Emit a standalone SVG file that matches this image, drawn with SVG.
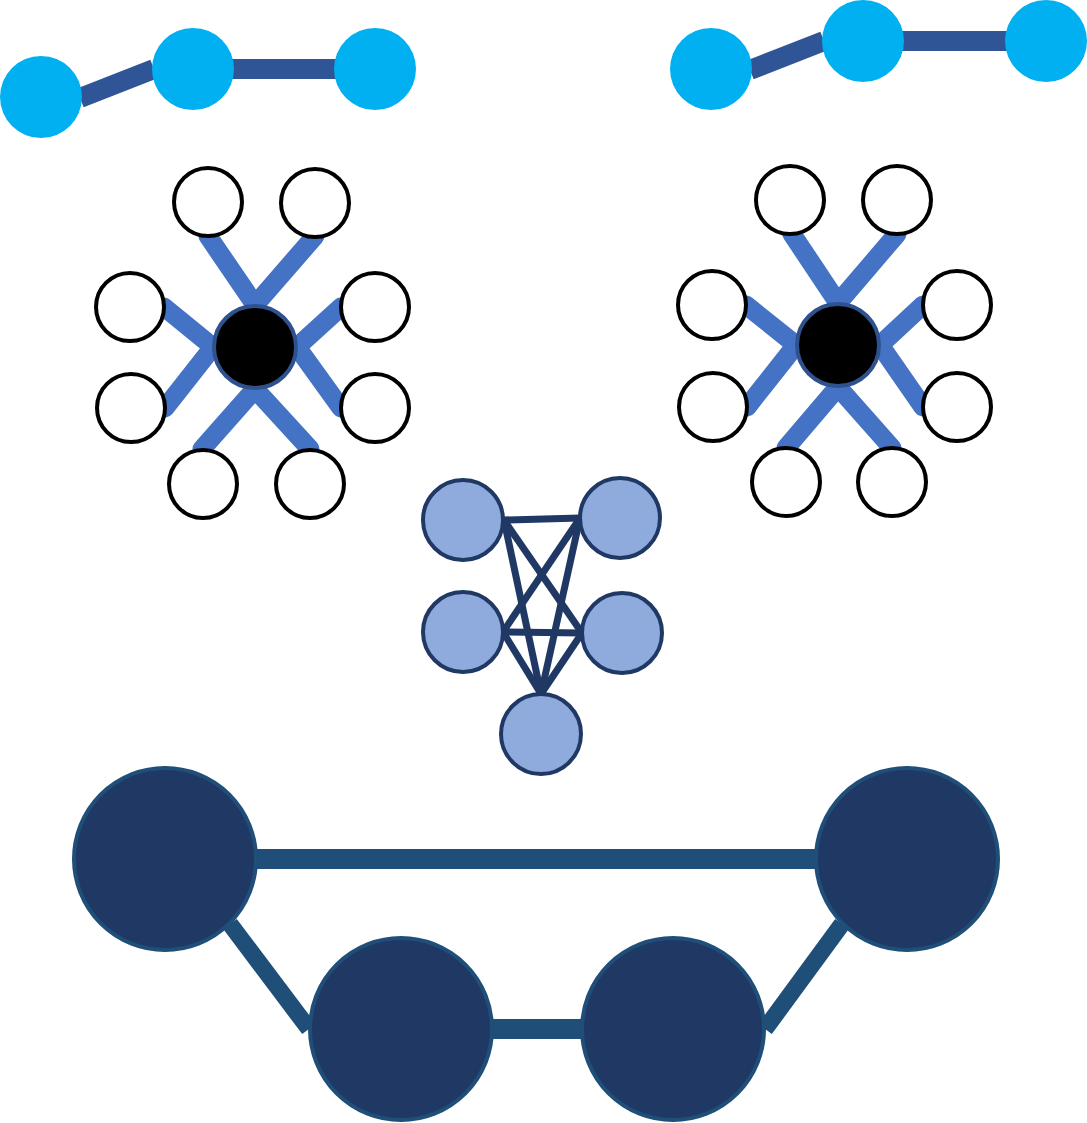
<svg xmlns="http://www.w3.org/2000/svg" width="1087" height="1123" viewBox="0 0 1087 1123">
<style>
.top{fill:#00B0F0;stroke:none}
.tl{stroke:#2F5597;stroke-width:20;fill:none}
.hub{fill:#000;stroke:#2F528F;stroke-width:4}
.leaf{fill:#fff;stroke:#000;stroke-width:4}
.sp{stroke:#4472C4;stroke-width:19;stroke-linecap:round;fill:none}
.mid{fill:#8FAADC;stroke:#203864;stroke-width:4}
.me{stroke:#203864;stroke-width:7;fill:none}
.big{fill:#203864;stroke:#1F4E79;stroke-width:4}
.be{stroke:#1F4E79;stroke-width:20;fill:none}
.bs{stroke:#1F4E79;stroke-width:17;fill:none}
</style>
<rect width="1087" height="1123" fill="#fff"/>
<g id="connectors">
<line class="tl" x1="80" y1="98" x2="154" y2="69"/>
<line class="tl" x1="193" y1="69" x2="375" y2="69"/>
<line class="tl" x1="750" y1="70" x2="824" y2="41"/>
<line class="tl" x1="863" y1="41" x2="1046" y2="41"/>
<g id="star-left-edges">
<line class="sp" x1="208" y1="236" x2="255" y2="305"/>
<line class="sp" x1="315" y1="236" x2="255" y2="305"/>
<line class="sp" x1="164" y1="307" x2="213" y2="347"/>
<line class="sp" x1="165" y1="408" x2="213" y2="347"/>
<line class="sp" x1="341" y1="307" x2="297" y2="347"/>
<line class="sp" x1="341" y1="408" x2="297" y2="347"/>
<line class="sp" x1="202" y1="449" x2="255" y2="389"/>
<line class="sp" x1="310" y1="449" x2="255" y2="389"/>
</g>
<g id="star-right-edges">
<line class="sp" x1="792" y1="234" x2="838" y2="303"/>
<line class="sp" x1="897" y1="234" x2="838" y2="303"/>
<line class="sp" x1="746" y1="305" x2="796" y2="345"/>
<line class="sp" x1="747" y1="407" x2="796" y2="345"/>
<line class="sp" x1="923" y1="305" x2="880" y2="345"/>
<line class="sp" x1="923" y1="407" x2="880" y2="345"/>
<line class="sp" x1="786" y1="448" x2="838" y2="387"/>
<line class="sp" x1="892" y1="448" x2="838" y2="387"/>
</g>
<g id="mid-edges">
<line class="me" x1="504" y1="520" x2="580" y2="518"/>
<line class="me" x1="504" y1="520" x2="582" y2="633"/>
<line class="me" x1="504" y1="520" x2="541" y2="694"/>
<line class="me" x1="580" y1="518" x2="503" y2="632"/>
<line class="me" x1="580" y1="518" x2="541" y2="694"/>
<line class="me" x1="503" y1="632" x2="582" y2="633"/>
<line class="me" x1="503" y1="632" x2="541" y2="694"/>
<line class="me" x1="582" y1="633" x2="541" y2="694"/>
</g>
<g id="big-edges">
<line class="be" x1="257" y1="859" x2="815" y2="859"/>
<line class="be" x1="493" y1="1029" x2="581" y2="1029"/>
<line class="bs" x1="230" y1="924" x2="309" y2="1029"/>
<line class="bs" x1="842" y1="924" x2="765" y2="1029"/>
</g>
</g>
<g id="top-left">
<circle id="tl1" class="top" cx="41" cy="97" r="41"/>
<circle id="tl2" class="top" cx="193" cy="69" r="41"/>
<circle id="tl3" class="top" cx="375" cy="69" r="41"/>
</g>
<g id="top-right">
<circle id="tr1" class="top" cx="711" cy="69" r="41"/>
<circle id="tr2" class="top" cx="863" cy="41" r="41"/>
<circle id="tr3" class="top" cx="1046" cy="41" r="41"/>
</g>
<g id="star-left">
<circle id="sl-hub" class="hub" cx="255" cy="347" r="41"/>
<circle id="sl1" class="leaf" cx="208" cy="202" r="34"/>
<circle id="sl2" class="leaf" cx="315" cy="203" r="34"/>
<circle id="sl3" class="leaf" cx="130" cy="307" r="34"/>
<circle id="sl4" class="leaf" cx="375" cy="307" r="34"/>
<circle id="sl5" class="leaf" cx="131" cy="408" r="34"/>
<circle id="sl6" class="leaf" cx="375" cy="408" r="34"/>
<circle id="sl7" class="leaf" cx="203" cy="484" r="34"/>
<circle id="sl8" class="leaf" cx="310" cy="484" r="34"/>
</g>
<g id="star-right">
<circle id="sr-hub" class="hub" cx="838" cy="345" r="41"/>
<circle id="sr1" class="leaf" cx="790" cy="200" r="34"/>
<circle id="sr2" class="leaf" cx="897" cy="200" r="34"/>
<circle id="sr3" class="leaf" cx="712" cy="305" r="34"/>
<circle id="sr4" class="leaf" cx="957" cy="305" r="34"/>
<circle id="sr5" class="leaf" cx="713" cy="407" r="34"/>
<circle id="sr6" class="leaf" cx="957" cy="407" r="34"/>
<circle id="sr7" class="leaf" cx="786" cy="482" r="34"/>
<circle id="sr8" class="leaf" cx="892" cy="482" r="34"/>
</g>
<g id="mid-cluster">
<circle id="m1" class="mid" cx="463" cy="520" r="40"/>
<circle id="m2" class="mid" cx="620" cy="518" r="40"/>
<circle id="m3" class="mid" cx="463" cy="632" r="40"/>
<circle id="m4" class="mid" cx="622" cy="633" r="40"/>
<circle id="m5" class="mid" cx="541" cy="734" r="40"/>
</g>
<g id="bottom">
<circle id="b1" class="big" cx="165" cy="859" r="91"/>
<circle id="b2" class="big" cx="907" cy="859" r="91"/>
<circle id="b3" class="big" cx="401" cy="1029" r="91"/>
<circle id="b4" class="big" cx="673" cy="1029" r="91"/>
</g>
</svg>
